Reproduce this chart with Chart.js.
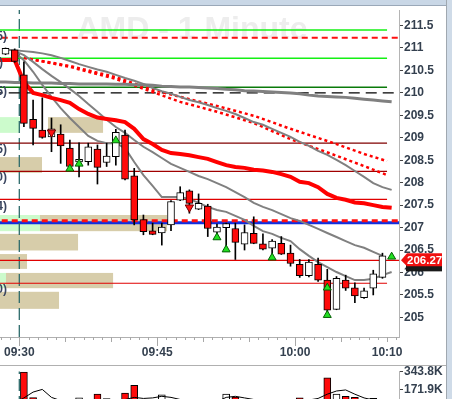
<!DOCTYPE html>
<html><head><meta charset="utf-8">
<script src="https://cdn.jsdelivr.net/npm/chart.js@4.4.1/dist/chart.umd.min.js"></script>
<style>
html,body{margin:0;padding:0;width:452px;height:399px;overflow:hidden;background:#fff;font-family:"Liberation Sans",Arial,sans-serif}
#top{position:absolute;left:0;top:0;width:452px;height:5px;background:#c9d7e6;border-bottom:1px solid #9aa8b8}
#rightstrip{position:absolute;left:446px;top:0;width:6px;height:399px;background:#cfdbe8;border-left:1px solid #a0a8b0}
#sep{position:absolute;left:0;top:365px;width:446px;height:1px;background:#b0b0b0}
#main{position:absolute;left:0;top:6px}
#vol{position:absolute;left:0;top:358px}
</style></head><body>
<div id="top"></div>
<canvas id="main" width="446" height="359"></canvas>
<div id="sep"></div>
<canvas id="vol" width="446" height="60"></canvas>
<div id="rightstrip"></div>
<script>
// ---------- DATA ----------
const barTimes = [-1.5,-0.5,0.5,1.5,2.5,3.5,4.5,5.5,6.5,7.5,8.5,9.5,10.5,11.5,12.5,13.5,14.5,15.5,16.5,17.5,18.5,19.5,20.5,21.5,22.5,23.5,24.5,25.5,26.5,27.5,28.5,29.5,30.5,31.5,32.5,33.5,34.5,35.5,36.5,37.5,38.5,39.5];
const opens  = [210.86,210.96,210.40,209.41,209.17,209.02,209.08,208.77,208.46,208.47,208.75,208.45,208.58,209.06,208.15,207.18,206.93,206.88,207.06,207.61,207.82,207.41,207.48,206.90,207.00,206.98,206.63,206.87,206.64,206.54,206.65,206.43,206.18,205.93,206.18,205.83,205.18,205.83,205.66,205.44,205.65,205.89];
const highs  = [211.00,210.98,210.69,209.84,209.89,209.44,209.29,208.95,208.89,208.88,208.84,208.88,209.19,209.17,208.32,207.28,207.10,207.10,207.60,207.91,207.84,207.75,207.52,207.08,207.10,207.10,207.06,207.24,206.86,206.73,206.80,206.61,206.29,206.29,206.32,206.07,205.91,205.94,205.77,205.65,206.05,206.43];
const lows   = [210.85,210.68,209.25,208.84,208.99,208.69,208.43,208.33,208.13,208.39,207.97,208.36,208.39,208.06,207.06,206.84,206.84,206.61,206.93,207.60,207.32,207.40,206.80,206.78,206.50,206.29,206.50,206.64,206.50,206.40,206.40,206.14,205.89,205.90,205.80,205.12,205.17,205.60,205.33,205.42,205.50,205.87];
const closes = [210.99,210.70,209.32,209.21,209.01,209.20,208.82,208.36,208.52,208.80,208.34,208.59,209.12,208.08,207.17,206.91,206.85,207.01,207.58,207.78,207.54,207.54,206.98,207.01,207.09,206.67,206.89,206.65,206.52,206.70,206.41,206.20,205.93,206.23,205.83,205.16,205.87,205.65,205.48,205.59,205.97,206.37];
const volumes = [40000,60000,339000,98000,70000,65000,60000,70000,95000,55000,131000,89000,70000,140000,213000,70000,50000,125000,70000,60000,65000,45000,70000,50000,131000,104000,60000,55000,50000,45000,60000,65000,95000,60000,70000,285000,130000,110000,100000,70000,90000,60000];
const volMA = [40000,50000,95000,150000,175000,100000,70000,60000,65000,70000,75000,70000,70000,80000,100000,90000,95000,110000,100000,80000,70000,65000,60000,60000,100000,110000,95000,80000,65000,60000,55000,60000,70000,75000,90000,130000,160000,170000,130000,95000,75000,70000];

const maTimes = [-2.5,-1.5,-0.5,0.5,1.5,2.5,3.5,4.5,5.5,6.5,7.5,8.5,9.5,10.5,11.5,12.5,13.5,14.5,15.5,16.5,17.5,18.5,19.5,20.5,21.5,22.5,23.5,24.5,25.5,26.5,27.5,28.5,29.5,30.5,31.5,32.5,33.5,34.5,35.5,36.5,37.5,38.5,39.5,40.5];
const redMA = [210.73,210.73,210.73,210.24,210.00,209.95,209.89,209.84,209.78,209.64,209.53,209.45,209.42,209.39,209.35,209.20,208.97,208.86,208.73,208.66,208.64,208.61,208.57,208.53,208.46,208.39,208.35,208.33,208.29,208.27,208.24,208.19,208.13,208.02,207.99,207.90,207.75,207.66,207.62,207.56,207.54,207.50,207.46,207.44];
const greyFlat = [210.24,210.24,210.23,210.23,210.22,210.22,210.22,210.21,210.21,210.20,210.20,210.20,210.20,210.19,210.19,210.18,210.18,210.17,210.15,210.14,210.13,210.13,210.12,210.11,210.10,210.08,210.07,210.05,210.04,210.03,210.02,210.01,210.00,209.98,209.95,209.93,209.92,209.91,209.90,209.88,209.86,209.84,209.82,209.80];
const greySlow = [null,210.96,210.95,210.93,210.91,210.88,210.84,210.78,210.71,210.64,210.58,210.52,210.47,210.40,210.33,210.27,210.20,210.11,210.04,209.98,209.91,209.84,209.79,209.73,209.66,209.60,209.53,209.44,209.35,209.29,209.20,209.11,209.02,208.91,208.82,208.71,208.62,208.51,208.39,208.26,208.13,207.99,207.90,207.84];
const greyMid  = [null,null,210.93,210.84,210.69,210.53,210.38,210.24,210.09,209.93,209.75,209.58,209.40,209.24,209.11,208.95,208.80,208.68,208.55,208.42,208.33,208.24,208.15,208.08,207.99,207.90,207.79,207.68,207.55,207.46,207.39,207.30,207.21,207.15,207.06,206.97,206.88,206.79,206.70,206.61,206.55,206.46,206.37,null];
const greyFast = [null,null,210.90,210.73,210.47,210.18,209.91,209.66,209.44,209.24,209.04,208.93,208.88,208.88,208.77,208.46,208.17,207.93,207.68,207.68,207.68,207.64,207.55,207.46,207.39,207.35,207.26,207.17,207.04,206.92,206.86,206.77,206.70,206.52,206.37,206.23,206.12,206.01,205.92,205.83,205.83,205.86,205.94,206.01];

const dotTimes = [0.5,5.5,10.5,14.5,17.5,21.5,25.5,29.5,34.5,37.5,40];
const dotUpper = [210.78,210.60,210.35,210.07,209.91,209.71,209.49,209.20,208.86,208.64,208.48];
const dotLower = [210.78,210.58,210.31,210.02,209.80,209.58,209.33,208.97,208.60,208.37,208.17];

const levelPrices = [211.40,210.77,210.125,211.23,210.00,207.11,207.15,208.88,208.25,207.63,206.27,205.76];
const levelEnds   = [40,40,40,41.6,41.6,41.6,41.6,40,40,40,41.6,40];

const tagTexts  = ['(5)','(5)','(5)','(5)','(0)','(4)','(0)'];
const tagPrices = [211.245,210.666,210.02,208.728,208.105,207.459,205.61];
const tagRight  = [7,3,7,7,7,7,7];

const upTimes  = [5.5,6.5,10.5,21.5,22.5,27.5,33.5,33.5,40.5];
const upPrices = [208.31,208.42,208.94,206.78,206.51,206.33,205.66,205.05,206.35];
const downTimes  = [3.5,18.5];
const downPrices = [209.12,207.45];

const profLow   = [209.11,209.11,208.22,206.92,206.92,206.49,206.08,205.65,205.65,205.19];
const profHigh  = [209.46,209.46,208.57,207.28,207.28,206.86,206.41,205.99,205.99,205.57];
const profStart = [-3,3.12,-3,-3,2.25,-3,-3,-3,-1.45,-3];
const profEnd   = [0.08,9.11,2.47,2.25,16.07,6.39,0.84,-1.45,10.2,4.32];
const profKind  = ['g','t','t','g','t','t','t','g','t','t'];

const xLabels = {0:'09:30',15:'09:45',30:'10:00',40:'10:10'};
const lastPrice = 206.27;
const title = 'AMD - 1 Minute';
const xMin = -2.1, xMax = 41.3, yMin = 204.563, yMax = 211.846;

// ---------- BUILD ----------
const RED='#ff0a0a';
const FONT='"Liberation Sans", Arial, sans-serif';
const pts=(t,v)=>t.map((x,i)=>({x:x,y:v[i]})).filter(p=>p.y!==null);
const up = closes.map((c,i)=>c>=opens[i]);
const wickData = barTimes.map((t,i)=>({x:t,y:[lows[i],highs[i]]}));
const bodyData = barTimes.map((t,i)=>{let lo=Math.min(opens[i],closes[i]),hi=Math.max(opens[i],closes[i]);if(hi-lo<0.02)hi=lo+0.02;return {x:t,y:[lo,hi]};});
const bodyColors = up.map(u=>u?'#ffffff':RED);

const levelStyles=[
 {c:'#14f014',w:1.5,d:[]},{c:'#14f014',w:1.5,d:[]},{c:'#0a7a0a',w:1.5,d:[]},
 {c:'#ff1010',w:2,d:[6,4]},{c:'#000000',w:1.3,d:[11,6]},
 {c:'#1030e0',w:3,d:[]},{c:'#ff1010',w:3,d:[6,4]},
 {c:'#800000',w:1.2,d:[]},{c:'#a00000',w:1.2,d:[]},{c:'#e00000',w:1.2,d:[]},{c:'#e00000',w:1.2,d:[]},{c:'#e00000',w:1.2,d:[]}
];
const datasets=[];
datasets.push({type:'scatter',data:pts(upTimes,upPrices),pointStyle:'triangle',pointRadius:4.6,backgroundColor:'#22e022',borderColor:'#046004',borderWidth:1,order:0});
datasets.push({type:'scatter',data:pts(downTimes,downPrices),pointStyle:'triangle',rotation:180,pointRadius:4.8,backgroundColor:'#ff1010',borderColor:'#700000',borderWidth:1,order:0});
datasets.push({type:'bar',data:bodyData,backgroundColor:bodyColors,borderColor:'#000',borderWidth:1,borderSkipped:false,barThickness:7,grouped:false,order:1});
datasets.push({type:'bar',data:wickData,backgroundColor:'#000',borderWidth:0,barThickness:1,grouped:false,order:2});
const lineBase={type:'line',pointRadius:0,fill:false,tension:0,spanGaps:false};
datasets.push(Object.assign({},lineBase,{data:pts(maTimes,redMA),borderColor:'#ff0000',borderWidth:4,order:3}));
datasets.push(Object.assign({},lineBase,{data:pts(maTimes,greyFast),borderColor:'#808080',borderWidth:2,order:4}));
datasets.push(Object.assign({},lineBase,{data:pts(maTimes,greyMid),borderColor:'#808080',borderWidth:2,order:4}));
datasets.push(Object.assign({},lineBase,{data:pts(maTimes,greySlow),borderColor:'#808080',borderWidth:2,order:4}));
datasets.push(Object.assign({},lineBase,{data:pts(maTimes,greyFlat),borderColor:'#808080',borderWidth:3,order:4}));
datasets.push(Object.assign({},lineBase,{data:pts(dotTimes,dotUpper),borderColor:'#ff0000',borderWidth:2.5,borderDash:[3,3],order:5}));
datasets.push(Object.assign({},lineBase,{data:pts(dotTimes,dotLower),borderColor:'#ff0000',borderWidth:2.5,borderDash:[3,3],order:5}));
levelPrices.forEach((p,i)=>{
  const s=levelStyles[i];
  datasets.push(Object.assign({},lineBase,{data:[{x:-3,y:p},{x:levelEnds[i],y:p}],borderColor:s.c,borderWidth:s.w,borderDash:s.d,order:(i===5?8:6)}));
});
datasets.push(Object.assign({},lineBase,{data:[{x:0,y:yMin},{x:0,y:yMax}],borderColor:'#2d6b6b',borderWidth:1.3,borderDash:[12,5],order:7}));

const axisFont={family:FONT,size:12,weight:'bold'};
const txtColor='#34404f';
const noPad=(s)=>{s.paddingLeft=0;s.paddingRight=0;s.paddingTop=0;s.paddingBottom=0;};

const mainPlugin={
  id:'mainDeco',
  beforeDatasetsDraw(chart){
    const {ctx,chartArea:a,scales:{x,y}}=chart;
    ctx.save();
    ctx.beginPath();ctx.rect(a.left,a.top,a.right-a.left,a.bottom-a.top);ctx.clip();
    ctx.fillStyle='#ededed';
    ctx.font='bold 32px '+FONT;
    ctx.textAlign='center';ctx.textBaseline='alphabetic';
    ctx.fillText(title,192,33);
    for(let i=0;i<profLow.length;i++){
      const x1=x.getPixelForValue(profStart[i]),x2=x.getPixelForValue(profEnd[i]);
      const y1=y.getPixelForValue(profHigh[i]),y2=y.getPixelForValue(profLow[i]);
      ctx.fillStyle=profKind[i]==='g'?'#ccfbcc':'#d7cdaa';
      ctx.fillRect(x1,y1,x2-x1,y2-y1);
    }
    ctx.restore();
  },
  afterDraw(chart){
    const {ctx,chartArea:a,scales:{x,y}}=chart;
    ctx.save();
    ctx.strokeStyle='#a8a8a8';ctx.lineWidth=1;
    for(let m=Math.ceil(xMin);m<=Math.floor(xMax);m++){
      const px=Math.round(x.getPixelForValue(m))+0.5;
      const len=(m%15===0)?9:((m%5===0)?5:3);
      ctx.beginPath();ctx.moveTo(px,a.bottom);ctx.lineTo(px,a.bottom+len);ctx.stroke();
    }
    ctx.fillStyle='#3a4660';ctx.font='bold 12px '+FONT;ctx.textAlign='right';ctx.textBaseline='middle';
    tagTexts.forEach((t,i)=>ctx.fillText(t,tagRight[i],y.getPixelForValue(tagPrices[i])));
    const py=y.getPixelForValue(lastPrice);
    ctx.fillStyle='#1a1a1a';
    ctx.fillRect(a.right+7,py+3,36,8);
    ctx.fillStyle='#f01010';
    ctx.beginPath();
    ctx.moveTo(a.right+2,py);ctx.lineTo(a.right+8,py-7);ctx.lineTo(a.right+43,py-7);ctx.lineTo(a.right+43,py+6);ctx.lineTo(a.right+8,py+6);ctx.closePath();ctx.fill();
    ctx.fillStyle='#fff';ctx.font='bold 11.5px '+FONT;
    ctx.textAlign='left';ctx.textBaseline='middle';
    ctx.fillText(lastPrice.toFixed(2),a.right+8,py);
    ctx.restore();
  }
};

new Chart(document.getElementById('main'),{
  data:{datasets},
  options:{
    responsive:false,animation:false,devicePixelRatio:1,
    layout:{autoPadding:false,padding:{top:4,left:0,right:0,bottom:0}},
    plugins:{legend:{display:false},tooltip:{enabled:false}},
    scales:{
      x:{type:'linear',min:xMin,max:xMax,offset:false,
        grid:{display:true,drawOnChartArea:false,drawTicks:true,tickLength:8,color:'rgba(0,0,0,0)'},
        border:{display:true,color:'#b0b0b0'},
        ticks:{stepSize:1,autoSkip:false,maxRotation:0,padding:0,font:axisFont,color:txtColor,
          callback:(v)=>xLabels[v]!==undefined?xLabels[v]:''},
        afterFit:(s)=>{s.height=28;noPad(s);}},
      y:{type:'linear',position:'right',min:yMin,max:yMax,
        grid:{display:true,drawOnChartArea:false,drawTicks:true,tickLength:4,tickColor:'#444'},
        border:{display:true,color:'#b4b4b4'},
        ticks:{stepSize:0.5,includeBounds:false,padding:1,font:axisFont,color:txtColor,
          callback:(v)=>String(Math.round(v*10)/10)},
        afterFit:(s)=>{s.width=47;noPad(s);}}
    }
  },
  plugins:[mainPlugin]
});

new Chart(document.getElementById('vol'),{
  data:{datasets:[
    Object.assign({},lineBase,{data:pts(barTimes,volMA),borderColor:'#000',borderWidth:1,order:0}),
    {type:'bar',data:pts(barTimes,volumes),backgroundColor:bodyColors,borderColor:'#000',borderWidth:1,borderSkipped:false,barThickness:7,grouped:false,order:1},
    Object.assign({},lineBase,{data:[{x:0,y:0},{x:0,y:400000}],borderColor:'#2d6b6b',borderWidth:1.3,borderDash:[12,5],order:2})
  ]},
  options:{
    responsive:false,animation:false,devicePixelRatio:1,
    layout:{autoPadding:false,padding:{top:13.5,left:0,right:0,bottom:10}},
    plugins:{legend:{display:false},tooltip:{enabled:false}},
    scales:{
      x:{type:'linear',min:xMin,max:xMax,offset:false,display:false},
      y:{type:'linear',position:'right',min:0,max:343800,
        grid:{display:true,drawOnChartArea:false,drawTicks:true,tickLength:4,tickColor:'#444'},
        border:{display:true,color:'#b4b4b4'},
        afterBuildTicks:(s)=>{s.ticks=[{value:171900},{value:343800}];},
        ticks:{padding:1,font:axisFont,color:txtColor,callback:(v)=>(v/1000).toFixed(1)+'K'},
        afterFit:(s)=>{s.width=47;noPad(s);}}
    }
  }
});
</script>
</body></html>
